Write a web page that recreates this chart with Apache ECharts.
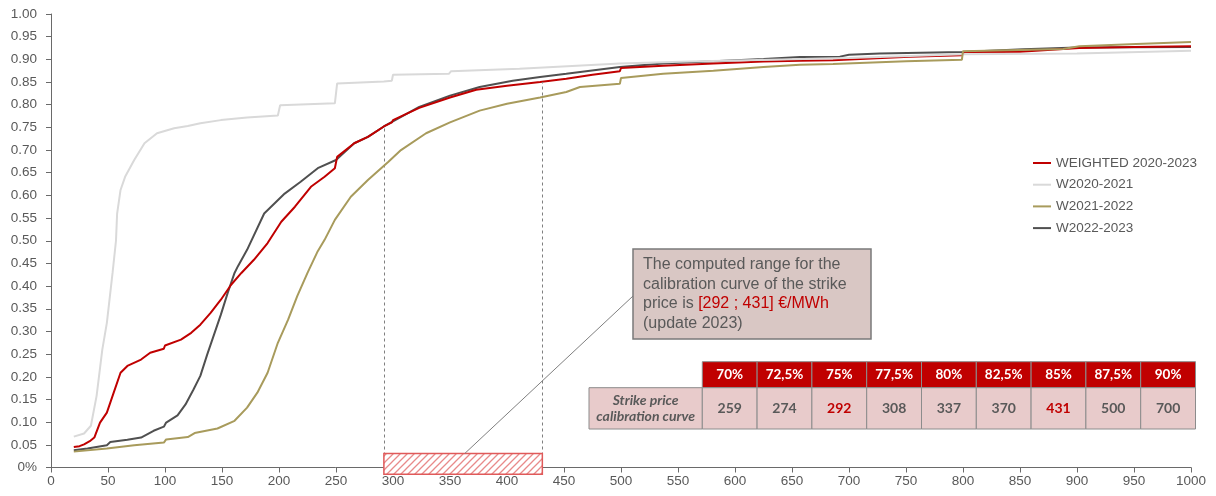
<!DOCTYPE html>
<html>
<head>
<meta charset="utf-8">
<script src="https://cdn.jsdelivr.net/npm/echarts@6/dist/echarts.min.js"></script>
<style>
* { margin: 0; padding: 0; }
html, body { background: #fff; }
</style>
</head>
<body>
<!-- chart container -->
<div id="main" style="width: 1216px;height: 496px;"></div>
<script>
// series names
var seriesNames = ["WEIGHTED 2020-2023", "W2020-2021", "W2021-2022", "W2022-2023"];
var seriesColors = ["#c00000", "#d9d9d9", "#a89b5c", "#505050"];

// cumulative curves: [strike price, share]
var weighted = [[20,0.045],[25,0.047],[29,0.051],[34,0.058],[38,0.066],[43,0.099],[49,0.121],[55,0.165],[61,0.209],[67,0.224],[79,0.238],[87,0.253],[99,0.262],[100,0.269],[114,0.282],[123,0.297],[131,0.315],[140,0.341],[149,0.370],[158,0.403],[167,0.429],[178,0.458],[190,0.495],[202,0.542],[214,0.575],[228,0.619],[240,0.641],[249,0.660],[251,0.685],[266,0.715],[278,0.729],[292,0.752],[299,0.761],[300,0.766],[323,0.793],[350,0.816],[373,0.833],[400,0.842],[429,0.850],[452,0.857],[475,0.866],[499,0.874],[500,0.881],[537,0.886],[581,0.891],[625,0.895],[657,0.897],[686,0.898],[753,0.906],[799,0.909],[801,0.916],[850,0.917],[902,0.925],[950,0.927],[1000,0.929]];
var w2020 = [[20,0.068],[29,0.075],[35,0.092],[40,0.158],[45,0.260],[49,0.319],[54,0.429],[57,0.500],[58,0.560],[61,0.612],[65,0.641],[73,0.678],[82,0.715],[93,0.737],[108,0.748],[120,0.753],[131,0.759],[149,0.766],[172,0.772],[199,0.776],[201,0.799],[249,0.803],[251,0.847],[292,0.851],[299,0.853],[300,0.866],[349,0.868],[351,0.874],[411,0.879],[499,0.891],[560,0.895],[650,0.900],[700,0.903],[800,0.911],[900,0.913],[1000,0.919]];
var w2021 = [[20,0.035],[49,0.042],[73,0.049],[99,0.055],[101,0.062],[120,0.067],[126,0.076],[146,0.086],[161,0.103],[172,0.132],[181,0.165],[190,0.209],[199,0.275],[208,0.326],[216,0.378],[225,0.429],[234,0.477],[240,0.502],[249,0.546],[263,0.597],[278,0.634],[296,0.674],[307,0.700],[329,0.737],[350,0.761],[376,0.787],[400,0.802],[429,0.816],[452,0.828],[464,0.839],[499,0.846],[500,0.859],[537,0.868],[581,0.875],[625,0.883],[657,0.888],[686,0.890],[750,0.896],[799,0.899],[800,0.918],[888,0.923],[902,0.929],[952,0.934],[1000,0.938]];
var w2022 = [[20,0.038],[32,0.042],[49,0.049],[52,0.056],[67,0.061],[79,0.066],[90,0.081],[99,0.090],[101,0.099],[111,0.115],[118,0.139],[125,0.172],[131,0.202],[137,0.249],[143,0.293],[149,0.337],[155,0.385],[161,0.429],[164,0.444],[172,0.480],[187,0.560],[205,0.604],[219,0.630],[234,0.660],[250,0.678],[266,0.715],[278,0.729],[292,0.752],[323,0.795],[350,0.820],[376,0.839],[405,0.853],[429,0.861],[452,0.868],[499,0.883],[537,0.891],[581,0.896],[625,0.901],[657,0.905],[692,0.906],[700,0.910],[727,0.913],[799,0.916],[800,0.919],[853,0.922],[900,0.926],[1000,0.927]];

// computed range and the levels where the dashed lines stop
var strikeRange = [292, 431];
var rangeLevels = [0.75, 0.85];

// table
var tableLevels = ["70%", "72,5%", "75%", "77,5%", "80%", "82,5%", "85%", "87,5%", "90%"];
var tableStrikes = ["259", "274", "292", "308", "337", "370", "431", "500", "700"];
var tableHighlight = ["292", "431"];

var grey = "#595959";
var charts = echarts.init(document.getElementById("main"));

var option = {
  animation: false,
  grid: { left: 51, right: 25, top: 14, bottom: 28.5 },
  legend: {
    orient: "vertical",
    left: 1027,
    top: 151,
    itemWidth: 18,
    itemHeight: 14,
    itemGap: 7.7,
    itemStyle: { opacity: 0 },
    textStyle: { color: grey, fontSize: 13.5, fontFamily: "Liberation Sans, Arial, sans-serif" },
    data: seriesNames
  },
  xAxis: {
    type: "value",
    min: 0,
    max: 1000,
    interval: 50,
    splitLine: { show: false },
    axisLine: { lineStyle: { color: "#6a6a6a" } },
    axisTick: { show: true, length: 5, lineStyle: { color: "#6a6a6a" } },
    axisLabel: {
      color: grey,
      fontSize: 13.5,
      margin: 7,
      fontFamily: "Liberation Sans, Arial, sans-serif",
      formatter: function(v) {
        return String(v);
      }
    }
  },
  yAxis: {
    type: "value",
    min: 0,
    max: 1,
    interval: 0.05,
    splitLine: { show: false },
    axisLine: { show: true, lineStyle: { color: "#6a6a6a" } },
    axisTick: { show: true, length: 5, lineStyle: { color: "#6a6a6a" } },
    axisLabel: {
      color: grey,
      fontSize: 13.5,
      margin: 14,
      fontFamily: "Liberation Sans, Arial, sans-serif",
      formatter: function(v) {
        return v === 0 ? "0%" : v.toFixed(2);
      }
    }
  },
  series: []
};

var allData = [weighted, w2020, w2021, w2022];
var order = [1, 2, 3, 0]; // drawing order: weighted on top
for (var k = 0; k < allData.length; k++) {
  option.series.push({
    name: seriesNames[k],
    type: "line",
    data: allData[k],
    symbol: "none",
    silent: true,
    z: 2 + order[k],
    lineStyle: { color: seriesColors[k], width: 2 },
    itemStyle: { color: seriesColors[k] }
  });
}

// dashed verticals at the computed range
option.series[0].markLine = {
  silent: true,
  symbol: "none",
  label: { show: false },
  lineStyle: { color: "#7f7f7f", type: [3, 3], width: 1 },
  data: [
    [{ coord: [strikeRange[0], 0] }, { coord: [strikeRange[0], rangeLevels[0]] }],
    [{ coord: [strikeRange[1], 0] }, { coord: [strikeRange[1], rangeLevels[1]] }]
  ]
};

charts.setOption(option);

// hatch pattern for the range rectangle
var pat = document.createElement("canvas");
pat.width = 7;
pat.height = 7;
var ctx = pat.getContext("2d");
ctx.fillStyle = "#fff";
ctx.fillRect(0, 0, 7, 7);
ctx.strokeStyle = "#e88a8a";
ctx.lineWidth = 1.3;
ctx.beginPath();
ctx.moveTo(-1, 8); ctx.lineTo(8, -1);
ctx.moveTo(-1, 1); ctx.lineTo(1, -1);
ctx.moveTo(6, 8); ctx.lineTo(8, 6);
ctx.stroke();

var pA = charts.convertToPixel({ gridIndex: 0 }, [strikeRange[0], 0.031]);
var pB = charts.convertToPixel({ gridIndex: 0 }, [strikeRange[1], -0.015]);
var pC = charts.convertToPixel({ gridIndex: 0 }, [363, 0.031]);

var box = { x: 633, y: 249, w: 238, h: 90 };
var graphics = [];

graphics.push({
  type: "rect",
  z: 50,
  shape: { x: pA[0], y: pA[1], width: pB[0] - pA[0], height: pB[1] - pA[1] },
  style: { fill: { image: pat, repeat: "repeat" }, stroke: "#e05a5a", lineWidth: 1.5 }
});
graphics.push({
  type: "line",
  z: 50,
  shape: { x1: pC[0], y1: pC[1], x2: box.x, y2: 296 },
  style: { stroke: "#7f7f7f", lineWidth: 1 }
});
graphics.push({
  type: "rect",
  z: 50,
  shape: { x: box.x, y: box.y, width: box.w, height: box.h },
  style: { fill: "#d9c7c4", stroke: "#7a7a7a", lineWidth: 1.5 }
});
graphics.push({
  type: "text",
  z: 51,
  x: box.x + 10,
  y: box.y + 6,
  style: {
    text: "{g|The computed range for the}\n{g|calibration curve of the strike}\n{g|price is }{r|[292 ; 431] €/MWh}\n{g|(update 2023)}",
    rich: {
      g: { fill: grey, fontSize: 16, lineHeight: 19.5, fontFamily: "Liberation Sans, Arial, sans-serif" },
      r: { fill: "#c00000", fontSize: 16, lineHeight: 19.5, fontFamily: "Liberation Sans, Arial, sans-serif" }
    }
  }
});

// table
var tx = 702.3, ty = 361.7, cw = 54.8, hh = 26, bh = 41.3, lw = 113.3;
var tFont = "Lato, 'Open Sans', sans-serif";
graphics.push({
  type: "rect",
  z: 50,
  shape: { x: tx - lw, y: ty + hh, width: lw, height: bh },
  style: { fill: "#e8cbcb", stroke: "#8c8c8c", lineWidth: 1 }
});
graphics.push({
  type: "text",
  z: 51,
  x: tx - lw / 2,
  y: ty + hh + bh / 2,
  style: {
    text: "Strike price\ncalibration curve",
    fill: grey,
    align: "center",
    verticalAlign: "middle",
    fontSize: 14,
    fontWeight: "bold",
    fontStyle: "italic",
    lineHeight: 16,
    fontFamily: tFont
  }
});
for (var i = 0; i < tableLevels.length; i++) {
  graphics.push({
    type: "rect",
    z: 50,
    shape: { x: tx + i * cw, y: ty, width: cw, height: hh },
    style: { fill: "#c00000", stroke: "#8c8c8c", lineWidth: 1 }
  });
  graphics.push({
    type: "text",
    z: 51,
    x: tx + i * cw + cw / 2,
    y: ty + hh / 2,
    style: { text: tableLevels[i], fill: "#fff", align: "center", verticalAlign: "middle", fontSize: 13.5, fontWeight: "bold", fontFamily: tFont }
  });
  graphics.push({
    type: "rect",
    z: 50,
    shape: { x: tx + i * cw, y: ty + hh, width: cw, height: bh },
    style: { fill: "#e8cbcb", stroke: "#8c8c8c", lineWidth: 1 }
  });
  graphics.push({
    type: "text",
    z: 51,
    x: tx + i * cw + cw / 2,
    y: ty + hh + bh / 2,
    style: {
      text: tableStrikes[i],
      fill: tableHighlight.indexOf(tableStrikes[i]) >= 0 ? "#c00000" : grey,
      align: "center",
      verticalAlign: "middle",
      fontSize: 14,
      fontWeight: "bold",
      fontFamily: tFont
    }
  });
}

charts.setOption({ graphic: graphics });
</script>
</body>
</html>
